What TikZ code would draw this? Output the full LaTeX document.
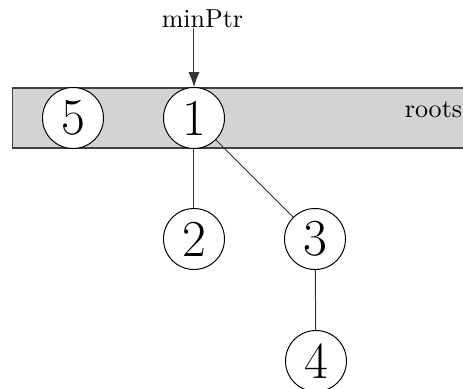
\documentclass[tikz,border=0pt]{standalone}
\usetikzlibrary{arrows.meta}
\definecolor{bandgray}{RGB}{211,211,211}
\begin{document}
\begin{tikzpicture}[x=0.4pt,y=-0.4pt,
  keynode/.style={circle,draw=black,fill=white,line width=0.4pt,minimum size=24.4pt,inner sep=0pt,font=\huge},
  lbl/.style={font=\fontsize{10.4}{12}\selectfont,inner sep=0pt,anchor=base},
  edge/.style={draw=black!80,line width=0.4pt}]
\clip (0,0) rectangle (463,389);
\path[fill=bandgray,draw=black!75,line width=0.6pt] (12.5,88) rectangle (480,148);
\node[keynode] (five) at (73,118) {5};
\node[keynode] (one) at (194,118) {1};
\node[keynode] (two) at (194,239) {2};
\node[keynode] (three) at (315,239) {3};
\node[keynode] (four) at (316,361) {4};
\node[lbl] (roots) at (433.5,117) {roots};
\node[lbl] (mp) at (202.5,27) {minPtr};
\draw[edge,-{Latex[length=6pt,width=4.5pt]}] (mp.south -| one.north) -- (one.north);
\draw[edge] (one) -- (two);
\draw[edge] (one) -- (three);
\draw[edge] (three) -- (four);
\end{tikzpicture}
\end{document}
